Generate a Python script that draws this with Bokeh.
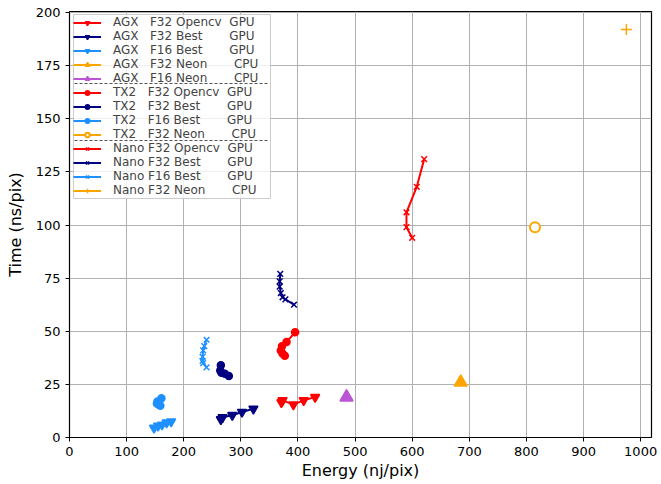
from bokeh.plotting import figure
from bokeh.models import Legend, LegendItem, Range1d, FixedTicker
from bokeh.embed import file_html
from bokeh.resources import INLINE

NB = "\u00a0"

# ---- data (Energy nj/pix, Time ns/pix) ----
agx_f32_opencv_x = [371, 373, 392, 410, 430]
agx_f32_opencv_y = [16.5, 17.5, 15.5, 17.5, 19.0]
agx_f32_best_x = [265, 268, 285, 302, 322]
agx_f32_best_y = [8.5, 9.5, 10.5, 12.0, 13.5]
agx_f16_best_x = [148, 155, 162, 170, 178]
agx_f16_best_y = [4.5, 5.5, 6.0, 7.0, 7.5]
agx_f32_neon_x = [685]
agx_f32_neon_y = [26]
agx_f16_neon_x = [485]
agx_f16_neon_y = [19]
tx2_f32_opencv_x = [395, 380, 372, 370, 373, 377]
tx2_f32_opencv_y = [49.5, 45.0, 43.0, 41.0, 39.5, 38.5]
tx2_f32_best_x = [265, 264, 266, 272, 279]
tx2_f32_best_y = [34.0, 31.5, 30.5, 30.0, 29.0]
tx2_f16_best_x = [161, 154, 153, 156, 159]
tx2_f16_best_y = [18.5, 17.0, 16.0, 15.5, 15.0]
tx2_f32_neon_x = [815]
tx2_f32_neon_y = [99]
nano_f32_opencv_x = [621, 608, 590, 590, 600]
nano_f32_opencv_y = [131, 118, 106, 99, 94]
nano_f32_best_x = [369, 368, 368, 370, 373, 378, 393]
nano_f32_best_y = [77.0, 73.5, 71.0, 68.0, 66.0, 65.0, 62.5]
nano_f16_best_x = [240, 236, 234, 233, 233, 234, 240]
nano_f16_best_y = [46, 43, 41, 38, 36, 35, 33]
nano_f32_neon_x = [975]
nano_f32_neon_y = [192]

labels = [
    "AGX" + NB*3 + "F32 Opencv" + NB*2 + "GPU",
    "AGX" + NB*3 + "F32 Best" + NB*7 + "GPU",
    "AGX" + NB*3 + "F16 Best" + NB*7 + "GPU",
    "AGX" + NB*3 + "F32 Neon" + NB*7 + "CPU",
    "AGX" + NB*3 + "F16 Neon" + NB*7 + "CPU",
    "TX2" + NB*3 + "F32 Opencv" + NB*2 + "GPU",
    "TX2" + NB*3 + "F32 Best" + NB*7 + "GPU",
    "TX2" + NB*3 + "F16 Best" + NB*7 + "GPU",
    "TX2" + NB*3 + "F32 Neon" + NB*7 + "CPU",
    "Nano F32 Opencv" + NB*2 + "GPU",
    "Nano F32 Best" + NB*7 + "GPU",
    "Nano F16 Best" + NB*7 + "GPU",
    "Nano F32 Neon" + NB*7 + "CPU",
]

x_ticks = [0, 100, 200, 300, 400, 500, 600, 700, 800, 900, 1000]
y_ticks = [0, 25, 50, 75, 100, 125, 150, 175, 200]

RED = "#ff0000"
NAVY = "#000080"
BLUE = "#1e90ff"
ORANGE = "#ffa500"
PURPLE = "#ba55d3"

series = [
    (agx_f32_opencv_x, agx_f32_opencv_y, RED, "inverted_triangle", 9, True),
    (agx_f32_best_x, agx_f32_best_y, NAVY, "inverted_triangle", 9, True),
    (agx_f16_best_x, agx_f16_best_y, BLUE, "inverted_triangle", 9, True),
    (agx_f32_neon_x, agx_f32_neon_y, ORANGE, "triangle", 13, True),
    (agx_f16_neon_x, agx_f16_neon_y, PURPLE, "triangle", 13, True),
    (tx2_f32_opencv_x, tx2_f32_opencv_y, RED, "circle", 7, True),
    (tx2_f32_best_x, tx2_f32_best_y, NAVY, "circle", 7, True),
    (tx2_f16_best_x, tx2_f16_best_y, BLUE, "circle", 7, True),
    (tx2_f32_neon_x, tx2_f32_neon_y, ORANGE, "circle", 10, False),
    (nano_f32_opencv_x, nano_f32_opencv_y, RED, "x", 8, True),
    (nano_f32_best_x, nano_f32_best_y, NAVY, "x", 8, True),
    (nano_f16_best_x, nano_f16_best_y, BLUE, "x", 8, True),
    (nano_f32_neon_x, nano_f32_neon_y, ORANGE, "cross", 11, True),
]

FRAME_LEFT, FRAME_TOP, FRAME_W, FRAME_H = 69, 11, 582, 426
X_MAX, Y_MAX = 1019, 200.5

p = figure(width=661, height=484, output_backend="svg", toolbar_location=None,
           x_range=Range1d(0, X_MAX), y_range=Range1d(0, Y_MAX),
           min_border_left=FRAME_LEFT, min_border_right=661 - FRAME_LEFT - FRAME_W,
           min_border_top=FRAME_TOP, min_border_bottom=484 - FRAME_TOP - FRAME_H)
p.frame_width = FRAME_W
p.frame_height = FRAME_H

items = []
for (xs, ys, col, mk, sz, filled), lab in zip(series, labels):
    r1 = p.line(xs, ys, line_color=col, line_width=2)
    if filled:
        r2 = p.scatter(xs, ys, marker=mk, size=sz, fill_color=col, line_color=col, line_width=1.5)
    else:
        r2 = p.scatter(xs, ys, marker=mk, size=sz, fill_color="white", line_color=col, line_width=2)
    items.append(LegendItem(label=lab, renderers=[r1, r2]))

# legend box background + dashed group separators (pixel positions -> frame coords)
def px_to_x(px):
    return (px - FRAME_LEFT) / FRAME_W * X_MAX

def py_to_y(py):
    return (FRAME_TOP + FRAME_H - py) / FRAME_H * Y_MAX

BOX_L, BOX_R, BOX_T, BOX_B = 73, 270, 14, 198
p.quad(left=[px_to_x(BOX_L)], right=[px_to_x(BOX_R)], top=[py_to_y(BOX_T)], bottom=[py_to_y(BOX_B)],
       fill_color="white", fill_alpha=0.8, line_color="#cccccc", line_width=1)
sep_rows = [83, 140]
p.segment(x0=[px_to_x(BOX_L + 1)] * 2, x1=[px_to_x(BOX_R - 1)] * 2,
          y0=[py_to_y(r) for r in sep_rows], y1=[py_to_y(r) for r in sep_rows],
          line_color="#555555", line_width=1, line_dash="3 2")

legend = Legend(items=items, location="top_left",
                label_text_font="DejaVu Sans", label_text_font_size="12px",
                label_height=11, glyph_height=11, glyph_width=28, spacing=0,
                label_standoff=12, padding=3, margin=4,
                border_line_color=None, background_fill_alpha=0)
p.add_layout(legend)

for ax in (p.xaxis, p.yaxis):
    ax.major_label_text_font = "DejaVu Sans"
    ax.major_label_text_font_size = "13px"
    ax.major_label_text_color = "#000000"
    ax.axis_label_text_font = "DejaVu Sans"
    ax.axis_label_text_font_size = "16px"
    ax.axis_label_text_font_style = "normal"
    ax.axis_label_text_color = "#000000"
    ax.minor_tick_line_color = None
    ax.major_tick_in = 0
    ax.major_tick_out = 4
    ax.axis_line_color = None
    ax.major_tick_line_color = "#000000"
p.xaxis.axis_label = "Energy (nj/pix)"
p.yaxis.axis_label = "Time (ns/pix)"
p.xaxis.ticker = FixedTicker(ticks=x_ticks)
p.yaxis.ticker = FixedTicker(ticks=y_ticks)
p.xaxis.axis_label_standoff = 2
p.yaxis.axis_label_standoff = 8

p.grid.grid_line_color = "#b0b0b0"
p.grid.grid_line_width = 1
p.outline_line_color = "#000000"
p.outline_line_width = 1.2
p.background_fill_color = "white"
p.border_fill_color = "white"

open("out.html", "w").write(file_html(p, INLINE))
